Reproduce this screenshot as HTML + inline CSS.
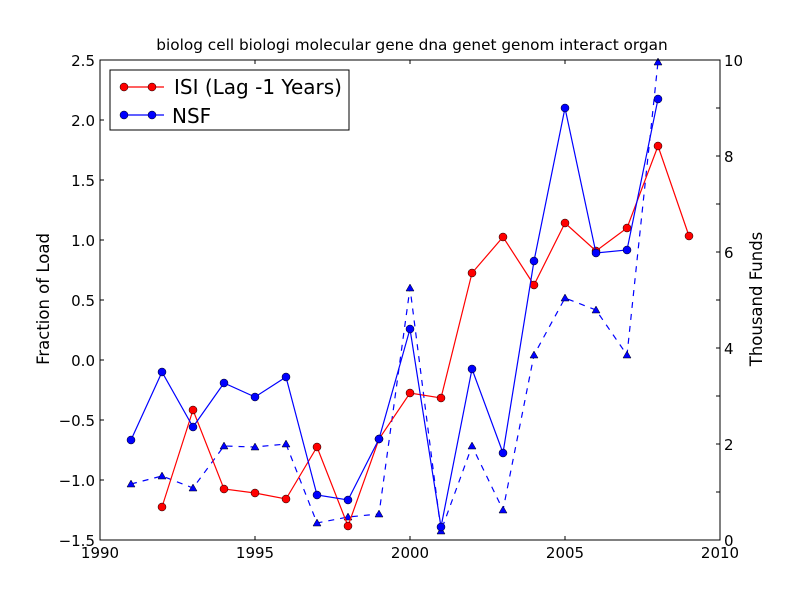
<!DOCTYPE html>
<html><head><meta charset="utf-8"><style>body{margin:0;background:#fff}</style></head><body>
<svg width="800" height="600" xmlns="http://www.w3.org/2000/svg" font-family="DejaVu Sans, Liberation Sans, sans-serif">
<rect width="800" height="600" fill="#fff"/>
<text x="412" y="50" font-size="15.3" text-anchor="middle">biolog cell biologi molecular gene dna genet genom interact organ</text>
<polyline fill="none" stroke="#0000ff" stroke-width="1.2" stroke-dasharray="6,6" points="131,484 162,476 193,488 224,446 255,447 286,444 317,523 348,517 379,514 410,288 441,531 472,446 503,510 534,355 565,298 596,310 627,355 658,62"/>
<g fill="#0000ff" stroke="#000" stroke-width="0.5">
<polygon points="131,480 135,487 127,487"/><polygon points="162,472 166,479 158,479"/><polygon points="193,484 197,491 189,491"/><polygon points="224,442 228,449 220,449"/><polygon points="255,443 259,450 251,450"/><polygon points="286,440 290,447 282,447"/><polygon points="317,519 321,526 313,526"/><polygon points="348,513 352,520 344,520"/><polygon points="379,510 383,517 375,517"/><polygon points="410,284 414,291 406,291"/><polygon points="441,527 445,534 437,534"/><polygon points="472,442 476,449 468,449"/><polygon points="503,506 507,513 499,513"/><polygon points="534,351 538,358 530,358"/><polygon points="565,294 569,301 561,301"/><polygon points="596,306 600,313 592,313"/><polygon points="627,351 631,358 623,358"/><polygon points="658,58 662,65 654,65"/>
</g>
<polyline fill="none" stroke="#ff0000" stroke-width="1.2" points="162,507 193,410 224,489 255,493 286,499 317,447 348,526 379,439 410,393 441,398 472,273 503,237 534,285 565,223 596,251 627,228 658,146 689,236"/>
<g fill="#ff0000" stroke="#000" stroke-width="0.5">
<circle cx="162" cy="507" r="4"/><circle cx="193" cy="410" r="4"/><circle cx="224" cy="489" r="4"/><circle cx="255" cy="493" r="4"/><circle cx="286" cy="499" r="4"/><circle cx="317" cy="447" r="4"/><circle cx="348" cy="526" r="4"/><circle cx="379" cy="439" r="4"/><circle cx="410" cy="393" r="4"/><circle cx="441" cy="398" r="4"/><circle cx="472" cy="273" r="4"/><circle cx="503" cy="237" r="4"/><circle cx="534" cy="285" r="4"/><circle cx="565" cy="223" r="4"/><circle cx="596" cy="251" r="4"/><circle cx="627" cy="228" r="4"/><circle cx="658" cy="146" r="4"/><circle cx="689" cy="236" r="4"/>
</g>
<polyline fill="none" stroke="#0000ff" stroke-width="1.2" points="131,440 162,372 193,427 224,383 255,397 286,377 317,495 348,500 379,439 410,329 441,527 472,369 503,453 534,261 565,108 596,253 627,250 658,99"/>
<g fill="#0000ff" stroke="#000" stroke-width="0.5">
<circle cx="131" cy="440" r="4"/><circle cx="162" cy="372" r="4"/><circle cx="193" cy="427" r="4"/><circle cx="224" cy="383" r="4"/><circle cx="255" cy="397" r="4"/><circle cx="286" cy="377" r="4"/><circle cx="317" cy="495" r="4"/><circle cx="348" cy="500" r="4"/><circle cx="379" cy="439" r="4"/><circle cx="410" cy="329" r="4"/><circle cx="441" cy="527" r="4"/><circle cx="472" cy="369" r="4"/><circle cx="503" cy="453" r="4"/><circle cx="534" cy="261" r="4"/><circle cx="565" cy="108" r="4"/><circle cx="596" cy="253" r="4"/><circle cx="627" cy="250" r="4"/><circle cx="658" cy="99" r="4"/>
</g>
<rect x="100" y="60" width="620" height="480" fill="none" stroke="#000" stroke-width="1"/>
<g stroke="#000" stroke-width="1">
<path d="M255,540v-4M410,540v-4M565,540v-4M255,60v4M410,60v4M565,60v4"/>
<path d="M100,120h4M100,180h4M100,240h4M100,300h4M100,360h4M100,420h4M100,480h4"/>
<path d="M720,492h-4M720,444h-4M720,396h-4M720,348h-4M720,300h-4M720,252h-4M720,204h-4M720,156h-4M720,108h-4"/>
</g>
<g font-size="15" text-anchor="middle">
<text x="100" y="558">1990</text><text x="255" y="558">1995</text><text x="410" y="558">2000</text><text x="565" y="558">2005</text><text x="720" y="558">2010</text>
</g>
<g font-size="15" text-anchor="end">
<text x="95" y="66">2.5</text><text x="95" y="126">2.0</text><text x="95" y="186">1.5</text><text x="95" y="246">1.0</text><text x="95" y="306">0.5</text><text x="95" y="366">0.0</text><text x="95" y="426">−0.5</text><text x="95" y="486">−1.0</text><text x="95" y="546">−1.5</text>
</g>
<g font-size="15">
<text x="724" y="546">0</text><text x="724" y="450">2</text><text x="724" y="354">4</text><text x="724" y="258">6</text><text x="724" y="162">8</text><text x="724" y="66">10</text>
</g>
<text transform="translate(49,299) rotate(-90)" font-size="16.5" text-anchor="middle">Fraction of Load</text>
<text transform="translate(762,299) rotate(-90)" font-size="16.5" text-anchor="middle">Thousand Funds</text>
<rect x="110" y="70" width="239" height="60" fill="#fff" stroke="#000"/>
<line x1="120" y1="87" x2="164" y2="87" stroke="#ff0000" stroke-width="1.2"/>
<circle cx="124" cy="87" r="4" fill="#ff0000" stroke="#000" stroke-width="0.5"/><circle cx="152" cy="87" r="4" fill="#ff0000" stroke="#000" stroke-width="0.5"/>
<line x1="120" y1="115" x2="164" y2="115" stroke="#0000ff" stroke-width="1.2"/>
<circle cx="124" cy="115" r="4" fill="#0000ff" stroke="#000" stroke-width="0.5"/><circle cx="152" cy="115" r="4" fill="#0000ff" stroke="#000" stroke-width="0.5"/>
<text x="174" y="94" font-size="20">ISI (Lag -1 Years)</text>
<text x="172" y="123" font-size="20">NSF</text>
</svg>
</body></html>
